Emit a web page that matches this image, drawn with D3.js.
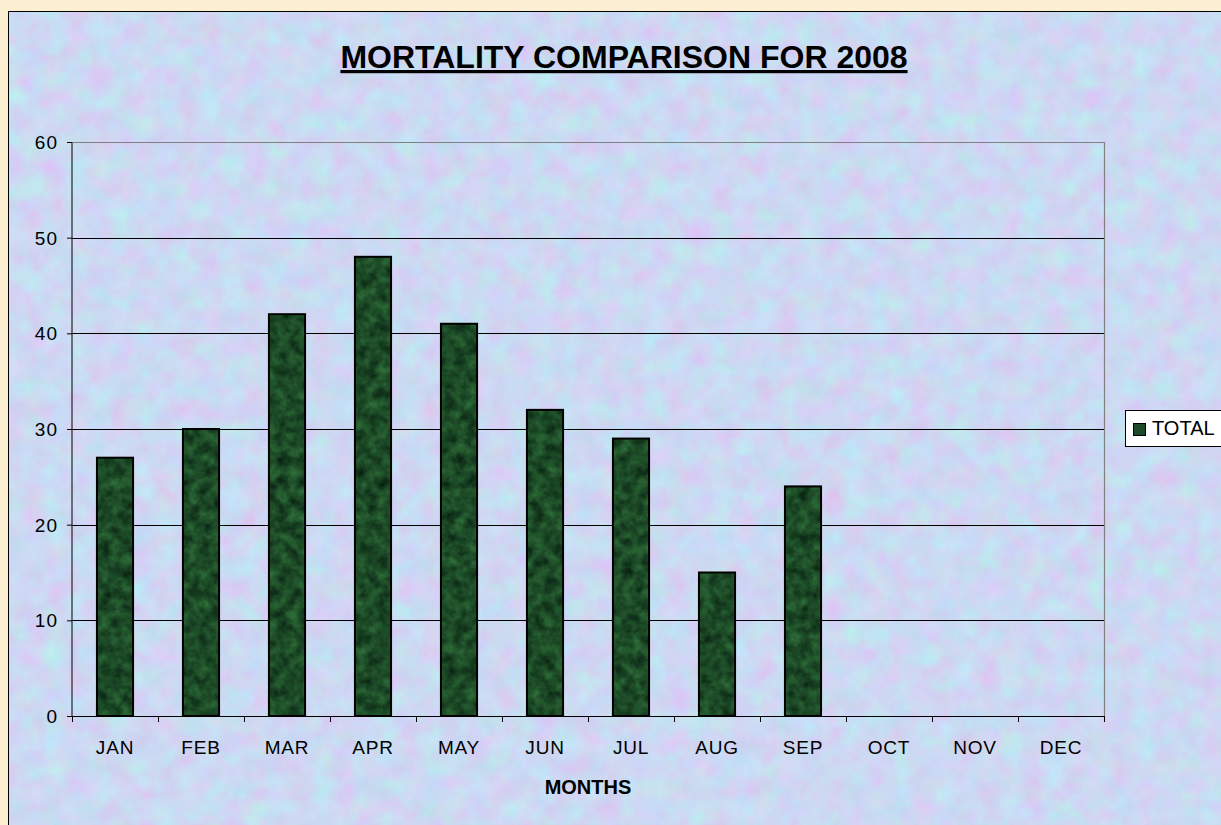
<!DOCTYPE html>
<html><head><meta charset="utf-8">
<script src="https://cdn.jsdelivr.net/npm/d3@7"></script>
<style>
html,body{margin:0;padding:0;background:#fcefd2;}
svg{display:block;font-family:"Liberation Sans",Arial,sans-serif;}
</style></head>
<body>
<script>
const months = ["JAN","FEB","MAR","APR","MAY","JUN","JUL","AUG","SEP","OCT","NOV","DEC"];
const totals = [27,30,42,48,41,32,29,15,24,null,null,null];
const yTicks = [0,10,20,30,40,50,60];
const seriesName = "TOTAL";
const chartTitle = "MORTALITY COMPARISON FOR 2008";
const xTitle = "MONTHS";

const W = 1221, H = 825;
const svg = d3.select("body").append("svg").attr("width", W).attr("height", H);
const defs = svg.append("defs");

// background texture
const f = defs.append("filter").attr("id","tex").attr("x",0).attr("y",0).attr("width","100%").attr("height","100%")
  .attr("color-interpolation-filters","sRGB");
f.append("feTurbulence").attr("type","fractalNoise").attr("baseFrequency","0.045").attr("numOctaves",4).attr("seed",4).attr("result","n");
f.append("feColorMatrix").attr("in","n").attr("type","matrix")
 .attr("values","0.18 0 0 0 0.71  -0.15 0.1 0 0 0.875  0 0 0.08 0 0.91  0 0 0 0 1");
// bar texture
const fb = defs.append("filter").attr("id","btex").attr("x",0).attr("y",0).attr("width","100%").attr("height","100%")
  .attr("color-interpolation-filters","sRGB");
fb.append("feTurbulence").attr("type","fractalNoise").attr("baseFrequency","0.09").attr("numOctaves",3).attr("seed",7).attr("result","n");
fb.append("feColorMatrix").attr("in","n").attr("type","matrix")
 .attr("values","0.2 0 0 0 0.01  0.4 0 0 0 0.09  0.2 0 0 0 0.05  0 0 0 0 1").attr("result","c");
fb.append("feComposite").attr("in","c").attr("in2","SourceGraphic").attr("operator","in");

svg.append("rect").attr("x",0).attr("y",0).attr("width",W).attr("height",H).attr("fill","#fcefd2");
svg.append("rect").attr("x",8.5).attr("y",11.5).attr("width",W).attr("height",H).attr("fill","#cfd8f3");
svg.append("rect").attr("x",9).attr("y",12).attr("width",W).attr("height",H).attr("filter","url(#tex)");
svg.append("rect").attr("x",8.5).attr("y",11.5).attr("width",W).attr("height",H).attr("fill","none").attr("stroke","#000").attr("stroke-width",1);

const m = {left:72, top:142, right:1104, bottom:716};
const x = d3.scaleBand().domain(months).range([m.left, m.right]).paddingInner(0.58).paddingOuter(0.29);
const xc = d3.scaleBand().domain(months).range([m.left, m.right]);
const y = d3.scaleLinear().domain([0,60]).range([m.bottom, m.top]);

// gridlines
svg.append("g").selectAll("line").data(yTicks.filter(d=>d>0&&d<60)).join("line")
  .attr("x1",m.left).attr("x2",m.right).attr("y1",d=>Math.round(y(d))+0.5).attr("y2",d=>Math.round(y(d))+0.5)
  .attr("stroke","#000").attr("stroke-width",1);
// plot border top/right
svg.append("path").attr("d",`M${m.left},${m.top+0.5}H${m.right+0.5}V${m.bottom}`).attr("fill","none").attr("stroke","#808080").attr("stroke-width",1.2);

// bars
const data = months.map((mo,i)=>({mo, v: totals[i]})).filter(d=>d.v!=null);
const bars = svg.append("g").selectAll("g").data(data).join("g");
bars.append("rect").attr("x",d=>x(d.mo)).attr("y",d=>y(d.v)).attr("width",x.bandwidth()).attr("height",d=>y(0)-y(d.v))
  .attr("fill","#1d4a28");
bars.append("rect").attr("x",d=>x(d.mo)).attr("y",d=>y(d.v)).attr("width",x.bandwidth()).attr("height",d=>y(0)-y(d.v))
  .attr("fill","#1d4a28").attr("filter","url(#btex)");
bars.append("rect").attr("x",d=>x(d.mo)).attr("y",d=>y(d.v)).attr("width",x.bandwidth()).attr("height",d=>y(0)-y(d.v))
  .attr("fill","none").attr("stroke","#000").attr("stroke-width",2);

// y axis
const ya = svg.append("g").attr("transform",`translate(${m.left},0)`)
  .call(d3.axisLeft(y).tickValues(yTicks).tickSize(5).tickPadding(9).tickFormat(d3.format("d")));
ya.select(".domain").attr("stroke","#000").attr("d",`M-5,${m.top+0.5}H0V${m.bottom}`);
ya.selectAll(".tick line").attr("stroke","#000");
ya.selectAll("text").attr("font-size",19).attr("letter-spacing",1).attr("fill","#000").attr("dy","0.35em")
  .attr("font-family","Liberation Sans, Arial, sans-serif");

// x axis
const xa = svg.append("g").attr("transform",`translate(0,${m.bottom})`)
  .call(d3.axisBottom(xc).tickSize(0));
xa.select(".domain").attr("stroke","#000").attr("d",`M${m.left},0.5H${m.right}`);
xa.selectAll("text").attr("font-size",19).attr("letter-spacing",0.8).attr("fill","#000").attr("y",38).attr("dy",0)
  .attr("font-family","Liberation Sans, Arial, sans-serif");
// boundary ticks
svg.append("g").selectAll("line").data(d3.range(months.length+1)).join("line")
  .attr("x1",i=>Math.round(m.left + i*xc.step())+0.5).attr("x2",i=>Math.round(m.left + i*xc.step())+0.5)
  .attr("y1",m.bottom).attr("y2",m.bottom+6).attr("stroke","#000");

// title
svg.append("text").attr("x",624).attr("y",68).attr("text-anchor","middle").attr("font-size",32).attr("font-weight","bold")
  .attr("text-decoration","underline").text(chartTitle);
svg.append("text").attr("x",588).attr("y",794).attr("text-anchor","middle").attr("font-size",20).attr("font-weight","bold").text(xTitle);

// legend
const lg = svg.append("g");
lg.append("rect").attr("x",1125.5).attr("y",410.5).attr("width",110).attr("height",36).attr("fill","#fff").attr("stroke","#000");
lg.append("rect").attr("x",1133.5).attr("y",423.5).attr("width",12).attr("height",12).attr("fill","#1d4a28").attr("stroke","#000");
lg.append("text").attr("x",1152).attr("y",435).attr("font-size",20).text(seriesName);
</script>
</body></html>
